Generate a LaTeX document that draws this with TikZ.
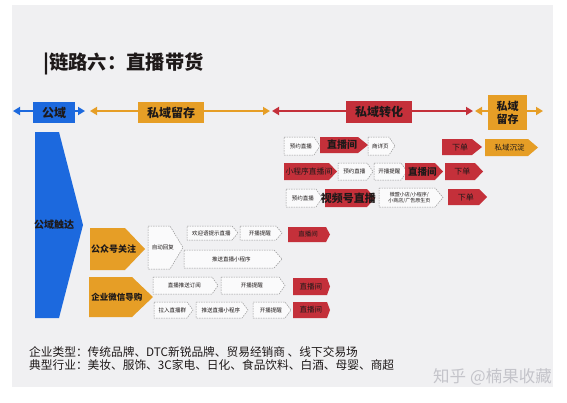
\documentclass[tikz,border=0pt]{standalone}
\usepackage{fontspec}
\setmainfont{Noto Sans CJK SC}
\usetikzlibrary{arrows.meta}
\definecolor{bg}{RGB}{240,240,242}
\definecolor{cblue}{RGB}{28,105,222}
\definecolor{corange}{RGB}{230,158,38}
\definecolor{cred}{RGB}{196,48,58}
\definecolor{cdash}{RGB}{150,150,150}
\definecolor{ctext}{RGB}{30,25,25}
\definecolor{cwm}{RGB}{196,196,202}
\newcommand\pent[9][]{%
  \path[#1] (#3,#4) -- ({#5-#7},#4) -- (#5,{(#4+#6)/2}) -- ({#5-#7},#6) -- (#3,#6) -- cycle;
  \node[#8] (#2) at ({(#3+#5-0.4*#7)/2},{(#4+#6)/2}) {#9};
}
\tikzset{
  bluef/.style={fill=cblue},
  orangef/.style={fill=corange},
  redf/.style={fill=cred},
  dashf/.style={draw=cdash, dash pattern=on 1.5pt off 1pt, line width=0.5pt, fill=white!70!bg},
  txt/.style={text=ctext, inner sep=0pt, align=center},
  tsmall/.style={txt, font=\fontsize{5.5}{6.5}\selectfont},
  tfs/.style={txt, font=\fontsize{#1}{#1}\selectfont},
  tfb/.style={txt, font=\fontsize{#1}{#1}\selectfont\bfseries},
  hdrarrow/.style={line width=2pt, {Triangle[length=7pt,width=8pt]}-{Triangle[length=7pt,width=8pt]}},
  hbox/.style={inner sep=0pt, text=ctext, font=\fontsize{12}{13}\selectfont\bfseries, align=center},
  btext/.style={anchor=west, inner sep=0pt, text=ctext, font=\fontsize{11.7}{13}\selectfont},
}
\begin{document}
\begin{tikzpicture}[x=1pt,y=-1pt]
\useasboundingbox (0,0) rectangle (567,402);
\fill[white] (0,0) rectangle (567,402);
\fill[bg] (12,5) rectangle (553,387);

% title
\node[anchor=west, inner sep=0pt, text=ctext, font=\fontsize{19.3}{21}\selectfont\bfseries] (title) at (43,64) {|链路六：直播带货};

% header arrows
\coordinate (b1) at (13,111); \coordinate (b2) at (85,111);
\coordinate (o1) at (90,111); \coordinate (o2) at (270,111);
\coordinate (r1) at (272,111); \coordinate (r2) at (473,111);
\coordinate (p1) at (475,111); \coordinate (p2) at (543,111);
\draw[hdrarrow, cblue] (b1) -- (b2);
\draw[hdrarrow, corange] (o1) -- (o2);
\draw[hdrarrow, cred] (r1) -- (r2);
\draw[hdrarrow, corange] (p1) -- (p2);
\node[hbox, fill=cblue, minimum width=42pt, minimum height=21pt] (hpub) at (54,112.5) {公域};
\node[hbox, fill=corange, minimum width=66pt, minimum height=21pt] (hpriv) at (171,112.5) {私域留存};
\node[hbox, fill=cred, minimum width=66pt, minimum height=22pt] (hconv) at (379,112) {私域转化};
\node[hbox, fill=corange, minimum width=39pt, minimum height=35pt, font=\fontsize{11}{13}\selectfont\bfseries] (hpriv2) at (507.5,112.5) {私域\\留存};

% big blue arrow
\pent[bluef]{reach}{35}{132}{83}{318}{24}{tfb=10}{公域触达}

% orange left arrows
\pent[orangef]{gzh}{90}{228}{145}{270}{20}{tfb=9}{公众号关注}
\pent[orangef]{qw}{89}{277}{153}{317}{21}{tfb=8.5}{企业微信导购}

% public account row
\pent[dashf]{auto}{148}{226}{183}{269}{13}{tsmall}{自动回复}
\pent[dashf]{welc}{187}{226}{238}{240}{6}{tsmall}{欢迎语提示直播}
\pent[dashf]{kb1}{240}{226}{282}{240}{6}{tsmall}{开播提醒}
\pent[redf]{live1}{288}{227}{330}{242}{4}{tfs=6.5}{直播间}
\pent[dashf]{push1}{184}{250}{282}{268}{8}{tsmall}{推送直播小程序}

% enterprise wechat rows
\pent[dashf]{sub}{153}{277}{218}{294}{6}{tsmall}{直播推送订阅}
\pent[dashf]{kb2}{221}{277}{285}{294}{6}{tsmall}{开播提醒}
\pent[redf]{live2}{293}{278}{330}{295}{3}{tfs=7.5}{直播间}
\pent[dashf]{grp}{154}{302}{193}{318}{6}{tsmall}{拉入直播群}
\pent[dashf]{push2}{196}{302}{248}{318}{6}{tsmall}{推送直播小程序}
\pent[dashf]{kb3}{253}{302}{291}{318}{6}{tsmall}{开播提醒}
\pent[redf]{live3}{293}{302}{330}{318}{3}{tfs=7.5}{直播间}

% right row 1
\pent[dashf]{yy1}{284}{137}{320}{155}{6}{tsmall}{预约直播}
\pent[redf]{lr1}{320}{137}{368}{153}{10}{tfb=10}{直播间}
\pent[dashf]{sxy}{368}{137}{395}{155}{6}{tsmall}{商详页}
\pent[redf]{xd1}{442}{139}{482}{155}{10}{tfs=8}{下单}
\pent[orangef]{cd}{485}{139}{538}{156}{10}{tfs=7.5}{私域沉淀}

% right row 2
\pent[redf]{mini}{284}{163}{337}{180}{8}{tfs=7.8}{小程序直播间}
\pent[dashf]{yy2}{338}{163}{373}{180}{6}{tsmall}{预约直播}
\pent[dashf]{kb4}{374}{163}{407}{180}{6}{tsmall}{开播提醒}
\pent[redf]{lr2}{405}{163}{443}{180}{8}{tfb=9.5}{直播间}
\pent[redf]{xd2}{445}{163}{483}{180}{8}{tfs=8}{下单}

% right row 3
\pent[dashf]{yy3}{286}{189}{322}{207}{6}{tsmall}{预约直播}
\pent[redf]{sph}{325}{189}{375}{207}{8}{tfb=11}{视频号直播}
\pent[dashf]{shop}{379}{188}{443}{207}{8}{tfs=5}{微盟小店/小程序/\\小商店/广告原生页}
\pent[redf]{xd3}{448}{189}{487}{205}{8}{tfs=8}{下单}

% bottom text
\node[btext] (t1) at (29,352) {企业类型：传统品牌、DTC新锐品牌、贸易经销商 、线下交易场};
\node[btext] (t2) at (29,365.5) {典型行业：美妆、服饰、3C家电、日化、食品饮料、白酒、母婴、商超};
\node[anchor=east, inner sep=0pt, text=cwm, font=\fontsize{16.5}{17}\selectfont] (wm) at (552,377) {知乎\hspace{4pt}@楠果收藏};
\end{tikzpicture}
\end{document}
